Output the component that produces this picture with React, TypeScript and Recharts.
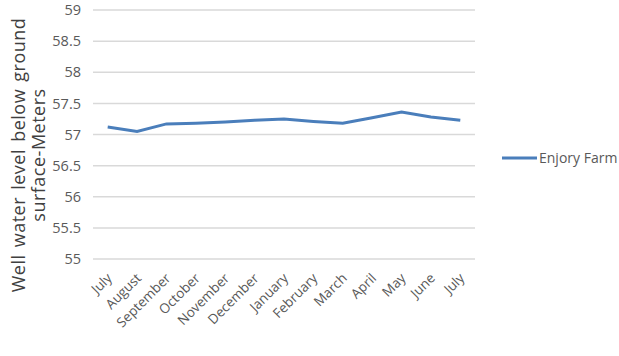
import { CartesianGrid, Line, LineChart, XAxis, YAxis } from "recharts";

const months = [
  "July",
  "August",
  "September",
  "October",
  "November",
  "December",
  "January",
  "February",
  "March",
  "April",
  "May",
  "June",
  "July ",
];

const enjoryFarm = [
  57.12, 57.05, 57.17, 57.18, 57.2, 57.23, 57.25, 57.21, 57.18, 57.27, 57.36, 57.28, 57.23,
];

const yTicks = [55, 55.5, 56, 56.5, 57, 57.5, 58, 58.5, 59];

const data = months.map((month, i) => ({ month, enjoryFarm: enjoryFarm[i] }));

const FONT = "'Open Sans', sans-serif";

function MonthTick(props: any) {
  const { x, y, payload } = props;
  const tx = x + 5;
  const ty = y + 12;
  return (
    <text
      x={tx}
      y={ty}
      textAnchor="end"
      fill="#595959"
      fontSize={13.5}
      fontFamily={FONT}
      transform={`rotate(-45, ${tx}, ${ty})`}
    >
      {String(payload.value).trim()}
    </text>
  );
}

function AxisTitle() {
  return (
    <g transform="translate(0, 155) rotate(-90)">
      <text
        textAnchor="middle"
        fill="#404040"
        fontSize={18}
        letterSpacing={0.5}
        wordSpacing={2}
        fontFamily={FONT}
      >
        <tspan x={0} y={25}>
          Well water level below ground
        </tspan>
        <tspan x={0} y={45}>
          surface-Meters
        </tspan>
      </text>
    </g>
  );
}

export default function App() {
  return (
    <div style={{ position: "absolute", left: 0, top: 0, width: 619, height: 356, background: "#fff" }}>
      <LineChart
        width={619}
        height={356}
        data={data}
        margin={{ top: 10, right: 144, bottom: 0, left: 0 }}
      >
        <CartesianGrid vertical={false} stroke="#d9d9d9" strokeWidth={1.5} />
        <XAxis
          dataKey="month"
          axisLine={false}
          tickLine={false}
          interval={0}
          height={97}
          padding={{ left: 14.7, right: 14.7 }}
          tick={<MonthTick />}
        />
        <YAxis
          domain={[55, 59]}
          ticks={yTicks}
          axisLine={false}
          tickLine={false}
          width={93}
          tickMargin={6}
          tick={{ fill: "#595959", fontSize: 14.5, fontFamily: FONT }}
        />
        <Line
          dataKey="enjoryFarm"
          stroke="#4a7ebb"
          strokeWidth={3}
          dot={false}
          type="linear"
          isAnimationActive={false}
        />
        <AxisTitle />
      </LineChart>
      <svg
        width={619}
        height={356}
        style={{ position: "absolute", left: 0, top: 0, pointerEvents: "none" }}
      >
        <line x1={502} y1={158} x2={537} y2={158} stroke="#4a7ebb" strokeWidth={3} />
        <text x={539} y={163} fill="#595959" fontSize={14} fontFamily={FONT}>
          Enjory Farm
        </text>
      </svg>
    </div>
  );
}
